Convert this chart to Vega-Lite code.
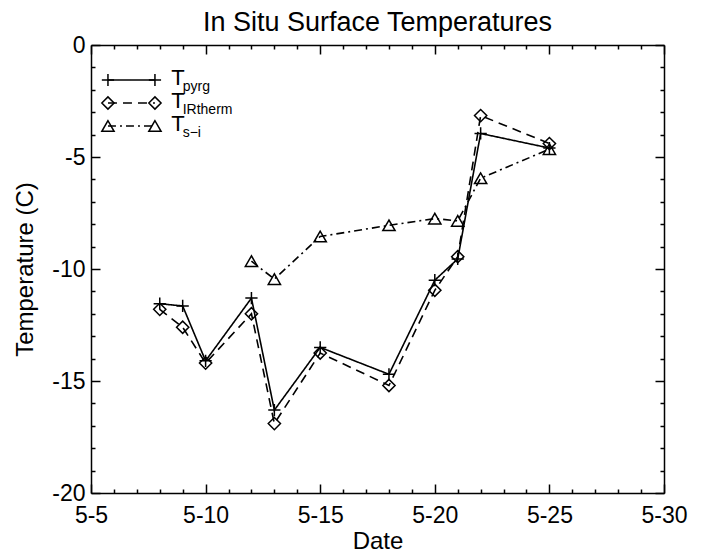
{
  "$schema": "https://vega.github.io/schema/vega-lite/v6.json",
  "width": 573,
  "height": 448,
  "autosize": "none",
  "padding": {"left": 91, "top": 45, "right": 39, "bottom": 59},
  "background": "white",
  "title": {"text": "In Situ Surface Temperatures", "fontSize": 27, "fontWeight": "normal", "color": "black", "anchor": "middle", "offset": -3},
  "datasets": {
    "main": [
      {"series": "pyrg", "day": 8, "temp": -11.55},
      {"series": "pyrg", "day": 9, "temp": -11.65},
      {"series": "pyrg", "day": 10, "temp": -14.1},
      {"series": "pyrg", "day": 12, "temp": -11.3},
      {"series": "pyrg", "day": 13, "temp": -16.3},
      {"series": "pyrg", "day": 15, "temp": -13.5},
      {"series": "pyrg", "day": 18, "temp": -14.7},
      {"series": "pyrg", "day": 20, "temp": -10.5},
      {"series": "pyrg", "day": 21, "temp": -9.55},
      {"series": "pyrg", "day": 22, "temp": -3.95},
      {"series": "pyrg", "day": 25, "temp": -4.6},
      {"series": "IRtherm", "day": 8, "temp": -11.8},
      {"series": "IRtherm", "day": 9, "temp": -12.6},
      {"series": "IRtherm", "day": 10, "temp": -14.2},
      {"series": "IRtherm", "day": 12, "temp": -12.0},
      {"series": "IRtherm", "day": 13, "temp": -16.9},
      {"series": "IRtherm", "day": 15, "temp": -13.75},
      {"series": "IRtherm", "day": 18, "temp": -15.2},
      {"series": "IRtherm", "day": 20, "temp": -10.95},
      {"series": "IRtherm", "day": 21, "temp": -9.45},
      {"series": "IRtherm", "day": 22, "temp": -3.15},
      {"series": "IRtherm", "day": 25, "temp": -4.4},
      {"series": "s-i", "day": 12, "temp": -9.65},
      {"series": "s-i", "day": 13, "temp": -10.45},
      {"series": "s-i", "day": 15, "temp": -8.55},
      {"series": "s-i", "day": 18, "temp": -8.05},
      {"series": "s-i", "day": 20, "temp": -7.75},
      {"series": "s-i", "day": 21, "temp": -7.85},
      {"series": "s-i", "day": 22, "temp": -5.95},
      {"series": "s-i", "day": 25, "temp": -4.65}
    ],
    "legend": [
      {"series": "pyrg", "sub": "pyrg"},
      {"series": "IRtherm", "sub": "IRtherm"},
      {"series": "s-i", "sub": "s−i"}
    ]
  },
  "layer": [
    {
      "data": {"name": "main"},
      "mark": {"type": "line", "color": "black", "strokeWidth": 1.6},
      "encoding": {
        "x": {"field": "day", "type": "quantitative", "scale": {"domain": [5, 30], "nice": false, "zero": false},
          "axis": {"orient": "bottom", "values": [5, 10, 15, 20, 25, 30], "labelExpr": "'5-' + datum.value", "ticks": false, "tickSize": 0, "labelFontSize": 23, "labelPadding": 11, "labelFlush": false, "labelOverlap": false, "title": "Date", "titleFontSize": 24, "titleFontWeight": "normal", "titlePadding": 2}},
        "y": {"field": "temp", "type": "quantitative", "scale": {"domain": [-20, 0], "nice": false, "zero": false},
          "axis": {"orient": "left", "values": [-20, -15, -10, -5, 0], "labelExpr": "'' + datum.value", "ticks": false, "tickSize": 0, "labelFontSize": 23, "labelPadding": 6, "labelFlush": false, "labelOverlap": false, "title": "Temperature (C)", "titleFontSize": 24, "titleFontWeight": "normal", "titlePadding": 14}},
        "detail": {"field": "series"},
        "strokeDash": {"field": "series", "type": "nominal", "scale": {"domain": ["pyrg", "IRtherm", "s-i"], "range": [[1, 0], [9, 6], [8, 4, 2, 4]]}, "legend": null}
      }
    },
    {
      "data": {"name": "main"},
      "mark": {"type": "point", "filled": false, "color": "black", "strokeWidth": 1.5, "size": 150, "opacity": 1},
      "encoding": {
        "x": {"field": "day", "type": "quantitative", "scale": {"domain": [5, 30], "nice": false, "zero": false}, "axis": null},
        "y": {"field": "temp", "type": "quantitative", "scale": {"domain": [-20, 0], "nice": false, "zero": false}, "axis": null},
        "shape": {"field": "series", "type": "nominal", "scale": {"domain": ["pyrg", "IRtherm", "s-i"], "range": ["M-1,0H1M0,-1V1", "diamond", "triangle-up"]}, "legend": null}
      }
    },
    {
      "data": {"name": "main"},
      "mark": {"type": "point", "opacity": 0},
      "encoding": {
        "x": {"field": "day", "type": "quantitative", "scale": {"domain": [5, 30], "nice": false, "zero": false},
          "axis": {"orient": "bottom", "values": [5, 10, 15, 20, 25, 30], "labels": false, "domain": false, "tickSize": -9, "title": null}},
        "y": {"field": "temp", "type": "quantitative", "scale": {"domain": [-20, 0], "nice": false, "zero": false},
          "axis": {"orient": "left", "values": [-20, -15, -10, -5, 0], "labels": false, "domain": false, "tickSize": -9, "title": null}}
      }
    },
    {
      "data": {"name": "main"},
      "mark": {"type": "point", "opacity": 0},
      "encoding": {
        "x": {"field": "day", "type": "quantitative", "scale": {"domain": [5, 30], "nice": false, "zero": false},
          "axis": {"orient": "bottom", "values": [6, 7, 8, 9, 11, 12, 13, 14, 16, 17, 18, 19, 21, 22, 23, 24, 26, 27, 28, 29], "labels": false, "domain": false, "tickSize": -4, "title": null}},
        "y": {"field": "temp", "type": "quantitative", "scale": {"domain": [-20, 0], "nice": false, "zero": false},
          "axis": {"orient": "left", "values": [-19, -18, -17, -16, -14, -13, -12, -11, -9, -8, -7, -6, -4, -3, -2, -1], "labels": false, "domain": false, "tickSize": -4, "title": null}}
      }
    },
    {
      "data": {"name": "main"},
      "mark": {"type": "point", "opacity": 0},
      "encoding": {
        "x": {"field": "day", "type": "quantitative", "scale": {"domain": [5, 30], "nice": false, "zero": false},
          "axis": {"orient": "top", "values": [5, 10, 15, 20, 25, 30], "labels": false, "domain": true, "tickSize": -9, "title": null}},
        "y": {"field": "temp", "type": "quantitative", "scale": {"domain": [-20, 0], "nice": false, "zero": false},
          "axis": {"orient": "right", "values": [-20, -15, -10, -5, 0], "labels": false, "domain": true, "tickSize": -9, "title": null}}
      }
    },
    {
      "data": {"name": "main"},
      "mark": {"type": "point", "opacity": 0},
      "encoding": {
        "x": {"field": "day", "type": "quantitative", "scale": {"domain": [5, 30], "nice": false, "zero": false},
          "axis": {"orient": "top", "values": [6, 7, 8, 9, 11, 12, 13, 14, 16, 17, 18, 19, 21, 22, 23, 24, 26, 27, 28, 29], "labels": false, "domain": false, "tickSize": -4, "title": null}},
        "y": {"field": "temp", "type": "quantitative", "scale": {"domain": [-20, 0], "nice": false, "zero": false},
          "axis": {"orient": "right", "values": [-19, -18, -17, -16, -14, -13, -12, -11, -9, -8, -7, -6, -4, -3, -2, -1], "labels": false, "domain": false, "tickSize": -4, "title": null}}
      }
    },
    {
      "data": {"name": "legend"},
      "mark": {"type": "rule", "color": "black", "strokeWidth": 1.6},
      "encoding": {
        "x": {"datum": 5.74, "type": "quantitative", "scale": {"domain": [5, 30], "nice": false, "zero": false}, "axis": null},
        "x2": {"datum": 7.79},
        "y": {"field": "series", "type": "nominal", "sort": null, "scale": {"type": "point", "domain": ["pyrg", "IRtherm", "s-i"], "range": [35, 81], "padding": 0}, "axis": null},
        "strokeDash": {"field": "series", "type": "nominal", "legend": null}
      }
    },
    {
      "data": {"name": "legend"},
      "mark": {"type": "point", "filled": false, "color": "black", "strokeWidth": 1.5, "size": 150, "opacity": 1},
      "encoding": {
        "x": {"datum": 5.74, "type": "quantitative", "scale": {"domain": [5, 30], "nice": false, "zero": false}, "axis": null},
        "y": {"field": "series", "type": "nominal", "sort": null, "scale": {"type": "point", "domain": ["pyrg", "IRtherm", "s-i"], "range": [35, 81], "padding": 0}, "axis": null},
        "shape": {"field": "series", "type": "nominal", "legend": null}
      }
    },
    {
      "data": {"name": "legend"},
      "mark": {"type": "point", "filled": false, "color": "black", "strokeWidth": 1.5, "size": 150, "opacity": 1},
      "encoding": {
        "x": {"datum": 7.79, "type": "quantitative", "scale": {"domain": [5, 30], "nice": false, "zero": false}, "axis": null},
        "y": {"field": "series", "type": "nominal", "sort": null, "scale": {"type": "point", "domain": ["pyrg", "IRtherm", "s-i"], "range": [35, 81], "padding": 0}, "axis": null},
        "shape": {"field": "series", "type": "nominal", "legend": null}
      }
    },
    {
      "data": {"name": "legend"},
      "mark": {"type": "text", "color": "black", "fontSize": 22, "align": "left", "baseline": "alphabetic", "dy": 5},
      "encoding": {
        "x": {"datum": 8.5, "type": "quantitative", "scale": {"domain": [5, 30], "nice": false, "zero": false}, "axis": null},
        "y": {"field": "series", "type": "nominal", "sort": null, "scale": {"type": "point", "domain": ["pyrg", "IRtherm", "s-i"], "range": [35, 81], "padding": 0}, "axis": null},
        "text": {"value": "T"}
      }
    },
    {
      "data": {"name": "legend"},
      "mark": {"type": "text", "color": "black", "fontSize": 14, "align": "left", "baseline": "alphabetic", "dy": 11},
      "encoding": {
        "x": {"datum": 9.0, "type": "quantitative", "scale": {"domain": [5, 30], "nice": false, "zero": false}, "axis": null},
        "y": {"field": "series", "type": "nominal", "sort": null, "scale": {"type": "point", "domain": ["pyrg", "IRtherm", "s-i"], "range": [35, 81], "padding": 0}, "axis": null},
        "text": {"field": "sub"}
      }
    }
  ],
  "resolve": {"scale": {"x": "independent", "y": "independent"}, "axis": {"x": "independent", "y": "independent"}},
  "config": {
    "font": "Liberation Sans",
    "view": {"stroke": null},
    "axis": {"grid": false, "domainColor": "black", "domainWidth": 1.5, "tickColor": "black", "tickWidth": 1.5, "labelColor": "black", "titleColor": "black", "labelFont": "Liberation Sans", "titleFont": "Liberation Sans"},
    "title": {"font": "Liberation Sans"}
  }
}
